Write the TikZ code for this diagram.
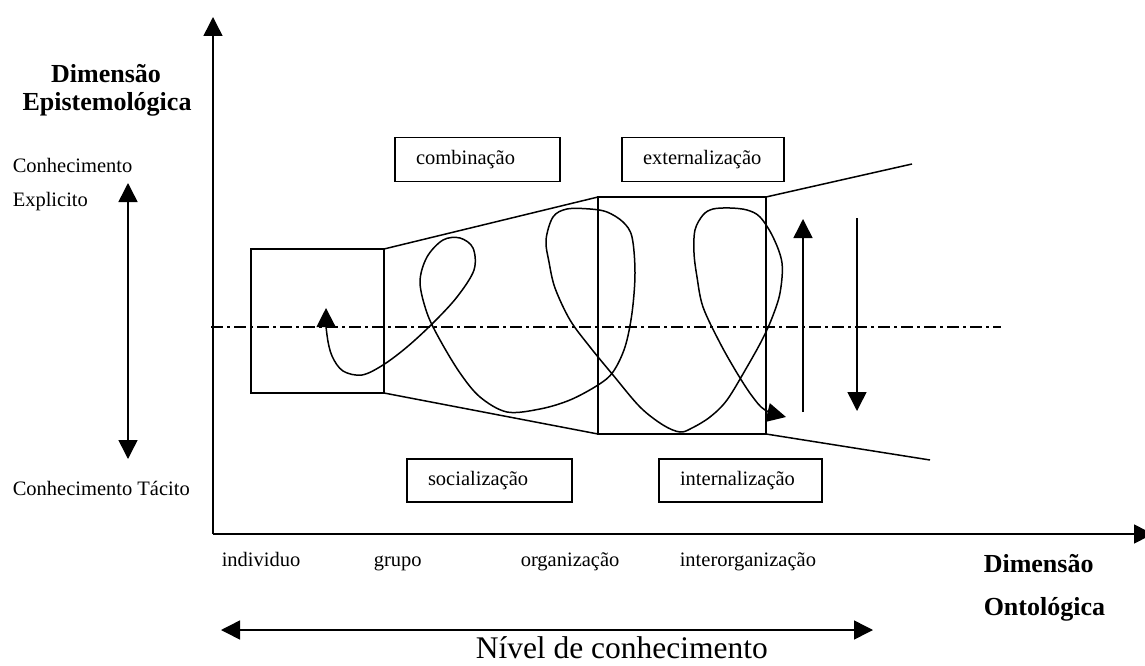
\documentclass[tikz,border=0pt]{standalone}
\usepackage{fontspec}
\setmainfont{Liberation Serif}
\usetikzlibrary{arrows.meta}
\newcommand{\regtxt}{\fontsize{20.5}{24}\selectfont}
\newcommand{\bldtxt}{\fontsize{26}{30}\selectfont\bfseries}
\newcommand{\bigtxt}{\fontsize{31.5}{36}\selectfont}
\begin{document}
\begin{tikzpicture}[x=1pt,y=-1pt,
  line width=1.5pt,
  tip/.tip={Triangle[length=19pt,width=19pt]},
  tri/.style={-tip},
  dtri/.style={tip-tip},
  boxn/.style={draw, line width=1.4pt, minimum height=44pt, inner xsep=21pt, align=left, font=\regtxt},
  blk/.style={draw, rectangle, outer sep=0pt, inner sep=0pt, line width=1.5pt},
  txt/.style={inner sep=0pt, anchor=base west, font=\regtxt},
  bld/.style={inner sep=0pt, anchor=base, font=\bldtxt},
  dashdot/.style={line width=1.3pt, dash pattern=on 12pt off 4pt on 3pt off 4pt},
]
\useasboundingbox (0,0) rectangle (1145,666);

% axes
\coordinate (O) at (213,534);
\coordinate (Ytip) at (213,17);
\coordinate (Xtip) at (1153,534);
\draw[tri] (O) -- (Ytip);
\draw[tri] (O) -- (Xtip);

% dash-dot center line
\coordinate (dl) at (211,327);
\coordinate (dr) at (1001,327);
\draw[dashdot] (dl) -- (dr);

% blocks
\node[blk, minimum width=133pt, minimum height=144pt] (lbox) at (317.5,321) {};
\node[blk, minimum width=168pt, minimum height=237pt] (mbox) at (682,315.5) {};
\coordinate (rtop) at (912,164);
\coordinate (rbot) at (930,460);
\draw (lbox.north east) -- (mbox.north west);
\draw (lbox.south east) -- (mbox.south west);
\draw (mbox.north east) -- (rtop);
\draw (mbox.south east) -- (rbot);

% mode boxes
\node[boxn, text width=123pt] (comb) at (477.5,159.5) {combinação};
\node[boxn, text width=120pt] (ext) at (703,159.5) {externalização};
\node[boxn, text width=123pt, minimum height=43pt] (soc) at (489.5,480.5) {socialização};
\node[boxn, text width=121pt, minimum height=43pt] (int) at (740.5,480.5) {internalização};

% spiral
\draw[tip-tip, line width=1.5pt] plot[smooth, tension=0.55] coordinates {
(326,308) (327,335) (332,356) (343,371) (362,375) (383,365) (407,347) (433,323)
(457,297) (474,270) (473,248) (460,238) (443,240) (427,257) (420,282) (427,313)
(440,340) (460,373) (480,397) (507,412) (540,409) (570,400) (598,385) (613,372)
(625,347) (632,313) (635,273) (632,237) (623,222) (607,212) (590,209) (567,209)
(553,217) (546,240) (549,262) (555,288) (570,320) (590,347) (613,375) (640,407)
(663,425) (680,432) (692,428) (710,417) (727,400) (747,367) (762,340) (772,318)
(780,293) (782,263) (773,237) (760,217) (747,210) (730,208) (713,209) (703,215)
(695,230) (694,253) (697,277) (703,307) (720,343) (737,373) (752,396) (765,410) (786,417)};

% vertical arrows
\coordinate (la1) at (128,183);
\coordinate (la2) at (128,459);
\draw[dtri] (la2) -- (la1);
\coordinate (ua1) at (803,412);
\coordinate (ua2) at (803,219);
\draw[tri] (ua1) -- (ua2);
\coordinate (da1) at (857,218);
\coordinate (da2) at (857,411);
\draw[tri] (da1) -- (da2);

% bottom arrow
\coordinate (ba1) at (221,630);
\coordinate (ba2) at (873,630);
\draw[dtri] (ba1) -- (ba2);

% texts
\node[bld] (dimE1) at (106,83) {Dimensão};
\node[bld] (dimE2) at (107,111) {Epistemológica};
\node[txt] (conh) at (12,172) {Conhecimento};
\node[txt] (expl) at (12,206) {Explicito};
\node[txt] (tac) at (12,495) {Conhecimento Tácito};
\node[txt] (ind) at (221,566) {individuo};
\node[txt] (grp) at (373,566) {grupo};
\node[txt] (org) at (520,566) {organização};
\node[txt] (iorg) at (679,566) {interorganização};
\node[inner sep=0pt, anchor=base west, font=\bldtxt] (dimO1) at (983,572) {Dimensão};
\node[inner sep=0pt, anchor=base west, font=\bldtxt] (dimO2) at (983,615) {Ontológica};
\node[inner sep=0pt, anchor=base west, font=\bigtxt] (niv) at (475,658) {Nível de conhecimento};
\end{tikzpicture}
\end{document}
